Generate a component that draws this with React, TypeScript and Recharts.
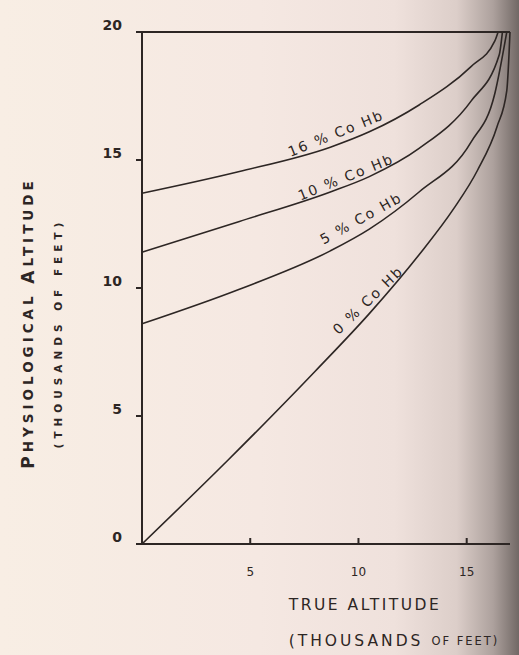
import React from 'react';
import { LineChart, Line, XAxis, YAxis, ReferenceLine, ReferenceDot, Label } from 'recharts';

const INK = '#2d2624';
const FONT = '"DejaVu Sans", sans-serif';

// curves: true altitude (x) vs physiological altitude (y), thousands of feet
const hb0X = [0, 4, 8, 10.5, 12.8, 14.4, 15.5, 16.4, 16.85, 17];
const hb0Y = [0, 3.3, 6.75, 9.0, 11.3, 13.1, 14.6, 16.3, 17.7, 20];
const hb5X = [0, 4.5, 8.7, 10.5, 12.8, 15.2, 16.3, 16.85];
const hb5Y = [8.6, 9.95, 11.45, 12.3, 13.75, 15.7, 17.6, 20];
const hb10X = [0, 4.5, 8.7, 10.5, 12.8, 15.2, 16.5, 16.65];
const hb10Y = [11.4, 12.6, 13.75, 14.35, 15.45, 17.3, 19.1, 20];
const hb16X = [0, 4.5, 8.7, 10.5, 12.8, 15.2, 16.3, 16.45];
const hb16Y = [13.7, 14.55, 15.5, 16.1, 17.15, 18.65, 19.65, 20];

const xTicks = [5, 10, 15];
const yTicks = [0, 5, 10, 15, 20];

// curve captions, anchored in data units
const curveNames = ['0 % Co Hb', '5 % Co Hb', '10 % Co Hb', '16 % Co Hb'];
const captionX = [10.44, 10.12, 9.42, 8.96];
const captionY = [9.53, 12.73, 14.34, 16.05];
const captionAngle = [-44, -29, -22, -22];

const toPoints = (xs: number[], ys: number[]) => xs.map((x, i) => ({ x, y: ys[i] }));

const series = [
  toPoints(hb0X, hb0Y),
  toPoints(hb5X, hb5Y),
  toPoints(hb10X, hb10Y),
  toPoints(hb16X, hb16Y),
];

const YTick = (props: any) => {
  const { x, y, payload } = props;
  return (
    <text x={x} y={y - 7} textAnchor="end" dominantBaseline="central" fill={INK}
      fontFamily={FONT} fontWeight="bold" fontSize={14}>
      {payload.value}
    </text>
  );
};

const XTick = (props: any) => {
  const { x, y, payload } = props;
  return (
    <text x={x} y={y} textAnchor="middle" dominantBaseline="central" fill={INK}
      fontFamily={FONT} fontSize={12}>
      {payload.value}
    </text>
  );
};

const YTitle = (props: any) => {
  const { x, y, height } = props.viewBox;
  const c1 = y + height / 2 + 35;
  const c2 = y + height / 2 + 45;
  const x1 = x + 28;
  const x2 = x + 58;
  return (
    <g fill={INK} fontFamily={FONT} fontWeight="bold">
      <text x={x1} y={c1} transform={`rotate(-90 ${x1} ${c1})`} textAnchor="middle"
        dominantBaseline="central" fontSize={13.5} letterSpacing={4}>
        <tspan fontSize={17}>P</tspan>HYSIOLOGICAL <tspan fontSize={17}>A</tspan>LTITUDE
      </text>
      <text x={x2} y={c2} transform={`rotate(-90 ${x2} ${c2})`} textAnchor="middle"
        dominantBaseline="central" fontSize={10.5} letterSpacing={5}>
        (THOUSANDS OF FEET)
      </text>
    </g>
  );
};

const XTitle = (props: any) => {
  const { x, y, width } = props.viewBox;
  const cx = x + width / 2;
  return (
    <g fill={INK} fontFamily={FONT}>
      <text x={cx + 39} y={y + 61} textAnchor="middle" dominantBaseline="central"
        fontSize={15.5} letterSpacing={2.5}>
        TRUE ALTITUDE
      </text>
      <text x={cx + 68} y={y + 97} textAnchor="middle" dominantBaseline="central"
        fontSize={15.5} letterSpacing={3}>
        (THOUSANDS <tspan fontSize={11.5} letterSpacing={2}>OF FEET)</tspan>
      </text>
    </g>
  );
};

export default function App() {
  return (
    <div style={{
      position: 'fixed', left: 0, top: 0, width: 519, height: 655,
      background: 'linear-gradient(to right, #f8eee4 0%, #f5e8e2 50%, #efe1dc 76%, #dccec9 88%, #ada19d 95%, #716865 100%)',
    }}>
      <LineChart width={519} height={655} margin={{ top: 32, right: 9, bottom: 0, left: 0 }}>
        <XAxis
          type="number"
          dataKey="x"
          domain={[0, 17]}
          ticks={xTicks}
          height={111}
          stroke={INK}
          strokeWidth={2}
          tickSize={-6}
          tickMargin={34}
          tick={<XTick />}
        >
          <Label content={<XTitle />} />
        </XAxis>
        <YAxis
          type="number"
          dataKey="y"
          domain={[0, 20]}
          ticks={yTicks}
          width={142}
          stroke={INK}
          strokeWidth={2}
          tickSize={6}
          tickMargin={14}
          tick={<YTick />}
        >
          <Label content={<YTitle />} />
        </YAxis>
        <ReferenceLine y={20} stroke={INK} strokeWidth={2} />
        {series.map((pts, i) => (
          <Line
            key={curveNames[i]}
            data={pts}
            dataKey="y"
            type="monotone"
            stroke={INK}
            strokeWidth={1.6}
            dot={false}
            isAnimationActive={false}
          />
        ))}
        {curveNames.map((name, i) => (
          <ReferenceDot
            key={name}
            x={captionX[i]}
            y={captionY[i]}
            r={0}
            shape={(p: any) => (
              <text
                x={p.cx}
                y={p.cy}
                transform={`rotate(${captionAngle[i]} ${p.cx} ${p.cy})`}
                textAnchor="middle"
                dominantBaseline="central"
                fill={INK}
                fontFamily={FONT}
                fontSize={14}
                letterSpacing={2}
              >
                {name}
              </text>
            )}
          />
        ))}
      </LineChart>
    </div>
  );
}
